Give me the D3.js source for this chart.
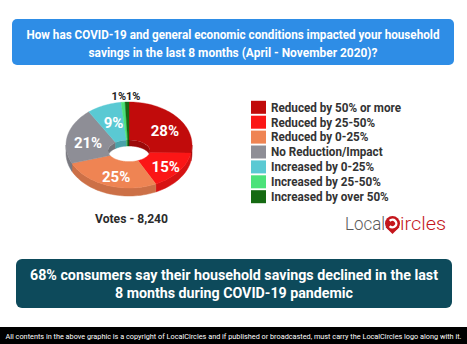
<!DOCTYPE html>
<html>
<head>
<meta charset="utf-8">
<script src="https://cdn.jsdelivr.net/npm/d3@7"></script>
<style>
  html, body { margin: 0; padding: 0; background: #fff; }
  svg { display: block; }
  text { font-family: Roboto, "Noto Sans", sans-serif; }
</style>
</head>
<body>
<script>
// Survey answers and shares (%)
const categories = [
  "Reduced by 50% or more",
  "Reduced by 25-50%",
  "Reduced by 0-25%",
  "No Reduction/Impact",
  "Increased by 0-25%",
  "Increased by 25-50%",
  "Increased by over 50%"
];
const values = [28, 15, 25, 21, 9, 1, 1];
const palette = ["#c10b0b", "#fb1616", "#ef8453", "#8e8e96", "#5ac9d3", "#4be27a", "#156a12"];
const totalVotes = 8240;

const titleLines = [
  "How has COVID-19 and general economic conditions impacted your household",
  "savings in the last 8 months (April - November 2020)?"
];
const summaryLines = [
  "68% consumers say their household savings declined in the last",
  "8 months during COVID-19 pandemic"
];
const footerText = "All contents in the above graphic is a copyright of LocalCircles and if published or broadcasted, must carry the LocalCircles logo along with it.";

const W = 467, H = 344;
const svg = d3.select("body").append("svg").attr("width", W).attr("height", H);

// ---- question banner ----
svg.append("rect").attr("x", 12).attr("y", 19).attr("width", 442).attr("height", 46)
  .attr("rx", 5).attr("fill", "#2e8de6");
const titleWidths = [413, 289];
titleLines.forEach((t, i) => {
  svg.append("text").attr("x", 233).attr("y", 34 + i * 18).attr("dy", "0.36em")
    .attr("text-anchor", "middle").attr("fill", "#fff")
    .attr("font-size", 11.6).attr("font-weight", 700)
    .attr("textLength", titleWidths[i]).attr("lengthAdjust", "spacingAndGlyphs")
    .attr("transform", "translate(233,0) scale(1,1.1) translate(-233,0)")
    .attr("y", (34 + i * 18) / 1.1)
    .text(t);
});

// ---- 3D-style donut ----
const outer = { cx: 129, cy: 145, rx: 63, ry: 43 };
const inner = { cx: 129, cy: 150.8, rx: 21, ry: 10.8 };
const depth = 8, innerDepth = 6;

const pie = d3.pie().sort(null).value(d => d).startAngle(0).endAngle(2 * Math.PI);
const arcs = pie(values);

const ellPt = (e, a, dy = 0) => [e.cx + e.rx * Math.sin(a), e.cy - e.ry * Math.cos(a) + dy];
function arcPts(e, a0, a1, dy = 0) {
  const n = Math.max(2, Math.ceil(Math.abs(a1 - a0) / (Math.PI / 90)));
  return d3.range(n + 1).map(k => ellPt(e, a0 + (a1 - a0) * k / n, dy));
}
const line = d3.line().curve(d3.curveLinearClosed);
const shade = (c, k) => d3.color(c).darker(k).formatHex();

const donut = svg.append("g");

// outer side wall (front half only)
arcs.forEach((d, i) => {
  const s0 = Math.max(d.startAngle, Math.PI / 2);
  const s1 = Math.min(d.endAngle, 3 * Math.PI / 2);
  if (s1 <= s0) return;
  const pts = arcPts(outer, s0, s1).concat(arcPts(outer, s1, s0, depth));
  donut.append("path").attr("d", line(pts)).attr("fill", shade(palette[i], 0.45))
    .attr("stroke", shade(palette[i], 0.45)).attr("stroke-width", 0.5);
});

// top faces
arcs.forEach((d, i) => {
  const pts = arcPts(outer, d.startAngle, d.endAngle).concat(arcPts(inner, d.endAngle, d.startAngle));
  donut.append("path").attr("d", line(pts)).attr("fill", palette[i])
    .attr("stroke", palette[i]).attr("stroke-width", 0.4);
});

// inner wall visible through the hole (back half)
const clipId = "holeClip";
svg.append("defs").append("clipPath").attr("id", clipId)
  .append("ellipse").attr("cx", inner.cx).attr("cy", inner.cy).attr("rx", inner.rx).attr("ry", inner.ry);
const wall = donut.append("g").attr("clip-path", `url(#${clipId})`);
arcs.forEach((d, i) => {
  [[0, Math.PI / 2], [3 * Math.PI / 2, 2 * Math.PI]].forEach(([r0, r1]) => {
    const s0 = Math.max(d.startAngle, r0), s1 = Math.min(d.endAngle, r1);
    if (s1 <= s0) return;
    const pts = arcPts(inner, s0, s1).concat(arcPts(inner, s1, s0, innerDepth));
    wall.append("path").attr("d", line(pts)).attr("fill", shade(palette[i], 0.6))
      .attr("stroke", shade(palette[i], 0.6)).attr("stroke-width", 0.5);
  });
});

// slice labels: large slices inside the ring, the tiny ones side by side above it
const labelRing = { cx: 131, cy: 149, rx: 44, ry: 29 };
const smallIdx = values.map((v, i) => v < 5 ? i : -1).filter(i => i >= 0);
const smallMid = smallIdx.length ? ellPt(outer, (arcs[smallIdx[0]].startAngle + arcs[smallIdx[smallIdx.length - 1]].endAngle) / 2)[0] : 0;
arcs.forEach((d, i) => {
  const mid = (d.startAngle + d.endAngle) / 2;
  if (d.value >= 5) {
    const [x, y] = ellPt(labelRing, mid);
    donut.append("text").attr("x", x).attr("y", y).attr("dy", "0.36em")
      .attr("text-anchor", "middle").attr("fill", "#fff")
      .attr("font-size", 15).attr("font-weight", 700)
      .text(d.value + "%");
  } else {
    const pos = smallIdx.indexOf(i);
    donut.append("text").attr("x", smallMid + 1).attr("y", outer.cy - outer.ry - 5.5).attr("dy", "0.36em")
      .attr("text-anchor", pos === 0 ? "end" : "start").attr("fill", "#222")
      .attr("font-size", 11).attr("font-weight", 700)
      .text(d.value + "%");
  }
});

svg.append("text").attr("x", 131.5).attr("y", 218).attr("dy", "0.36em")
  .attr("text-anchor", "middle").attr("fill", "#2b2b2b")
  .attr("font-size", 13.5).attr("font-weight", 700)
  .attr("textLength", 73).attr("lengthAdjust", "spacingAndGlyphs")
  .text("Votes - " + d3.format(",")(totalVotes));

// ---- legend ----
const legend = svg.append("g");
const rowY = d3.scalePoint().domain(categories).range([107.3, 196.7]);
const legendTexts = [];
categories.forEach((c, i) => {
  const y = rowY(c);
  legend.append("rect").attr("x", 251).attr("y", y - 6.5).attr("width", 15).attr("height", 13)
    .attr("fill", palette[i]);
  legendTexts.push(legend.append("text").attr("x", 271).attr("y", y).attr("dy", "0.36em")
    .attr("fill", "#333").attr("font-size", 12.2).attr("font-weight", 700).text(c));
});
// condense legend labels so the longest one spans ~130px
const refLen = legendTexts[0].node().getComputedTextLength();
const k = 130 / refLen;
legendTexts.forEach(t => {
  const len = t.node().getComputedTextLength();
  t.attr("textLength", len * k).attr("lengthAdjust", "spacingAndGlyphs");
});

// ---- LocalCircles logo ----
const logo = svg.append("g");
logo.append("text").attr("x", 345).attr("y", 224).attr("dy", "0.36em")
  .attr("font-family", "Lato, sans-serif").attr("font-weight", 300)
  .attr("font-size", 17.5).attr("fill", "#5a5a5a")
  .attr("textLength", 40).attr("lengthAdjust", "spacingAndGlyphs").text("Local");
logo.append("path")
  .attr("d", "M385.5,227 L392.5,234 L399.5,227 Z").attr("fill", "#c4161c");
logo.append("circle").attr("cx", 392.5).attr("cy", 223.5).attr("r", 7.5).attr("fill", "#c4161c");
logo.append("path")
  .attr("d", d3.arc()({ innerRadius: 2.6, outerRadius: 5, startAngle: 0.75, endAngle: 2 * Math.PI - 0.75 }))
  .attr("transform", "translate(392.5,223.5) rotate(-90)")
  .attr("fill", "#fff");
logo.append("text").attr("x", 400).attr("y", 224).attr("dy", "0.36em")
  .attr("font-family", "Lato, sans-serif").attr("font-weight", 300)
  .attr("font-size", 17.5).attr("fill", "#c4161c")
  .attr("textLength", 46).attr("lengthAdjust", "spacingAndGlyphs").text("ircles");

// ---- summary banner ----
svg.append("rect").attr("x", 16).attr("y", 259).attr("width", 436).attr("height", 49)
  .attr("rx", 6).attr("fill", "#0d4a5b");
const summaryWidths = [408, 238];
summaryLines.forEach((t, i) => {
  svg.append("text").attr("x", 234).attr("y", 274.5 + i * 18.5).attr("dy", "0.36em")
    .attr("text-anchor", "middle").attr("fill", "#fff")
    .attr("font-size", 14.5).attr("font-weight", 700)
    .attr("textLength", summaryWidths[i]).attr("lengthAdjust", "spacingAndGlyphs")
    .text(t);
});

// ---- footer ----
svg.append("rect").attr("x", 0).attr("y", 327).attr("width", W).attr("height", H - 327).attr("fill", "#000");
svg.append("text").attr("x", 233.5).attr("y", 336.5).attr("dy", "0.36em")
  .attr("text-anchor", "middle").attr("fill", "#fff")
  .attr("font-family", "Lato, sans-serif").attr("font-size", 7.4)
  .attr("textLength", 456).attr("lengthAdjust", "spacingAndGlyphs")
  .text(footerText);
</script>
</body>
</html>
